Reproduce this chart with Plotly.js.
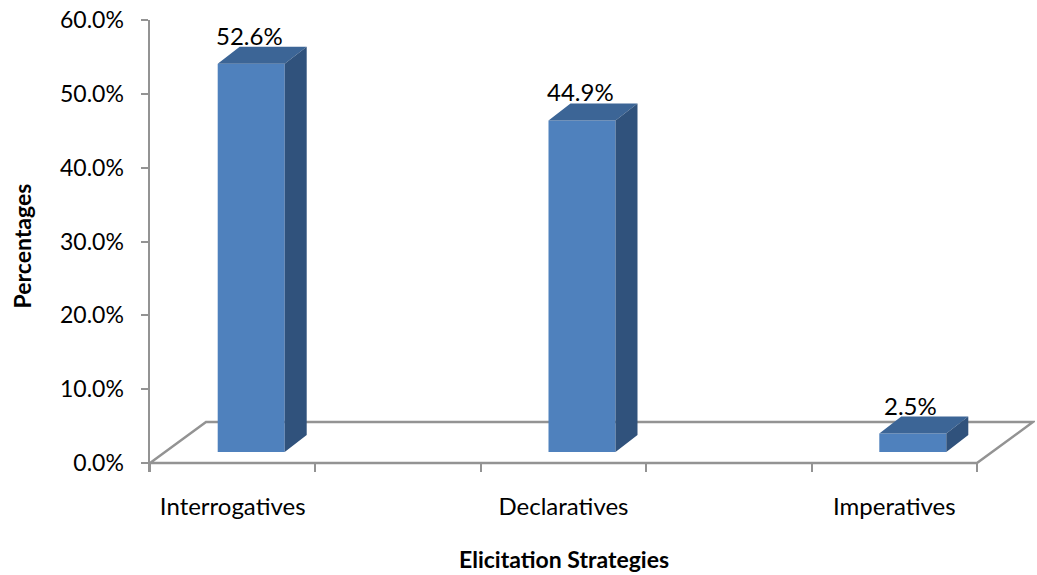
<!DOCTYPE html>
<html>
<head>
<meta charset="utf-8">
<script src="https://cdn.plot.ly/plotly-3.0.1.min.js"></script>
<style>html,body{margin:0;padding:0;background:#fff;}#chart{width:1037px;height:575px;}</style>
</head>
<body>
<div id="chart"></div>
<script>
// ---- data ----
const categories = ['Interrogatives', 'Declaratives', 'Imperatives'];
const values = [0.526, 0.449, 0.025];
const yTickVals = [0, 0.1, 0.2, 0.3, 0.4, 0.5, 0.6];
const xTitle = 'Elicitation Strategies';
const yTitle = 'Percentages';

// ---- geometry (pixel measurements converted to axis units) ----
const KX = 165.4;           // px per category slot
const KY = 738.3;           // px per 1.0 (100%)
const SLOT = 2;             // Excel spaced the categories every other slot
const DX0 = 18.5 / KX, DY0 = 11 / KY;    // front face depth offset
const BW = 67 / KX;                      // bar width
const DXD = 22 / KX, DYD = 17 / KY;      // bar depth
const DXF = 56 / KX, DYF = 41 / KY;      // floor depth
const nSlots = (categories.length - 1) * SLOT + 1;
const xMin = -0.5, xMax = -0.5 + 885 / KX;
const yMin = -9 / KY, yMax = 0.6;
const font = 'Lato, "Open Sans", sans-serif';
const grey = '#939393';

const xc = values.map((v, i) => i * SLOT + DX0);

const front = {
  type: 'bar', x: xc, y: values, base: values.map(() => DY0), width: BW,
  marker: {color: '#4F81BD', line: {width: 0}}, hoverinfo: 'skip', showlegend: false
};

const topX = [], topY = [], sideX = [], sideY = [];
values.forEach((v, i) => {
  const xl = xc[i] - BW / 2, xr = xc[i] + BW / 2, t = DY0 + v;
  topX.push(xl, xr, xr + DXD, xl + DXD, xl, null);
  topY.push(t, t, t + DYD, t + DYD, t, null);
  sideX.push(xr, xr + DXD, xr + DXD, xr, xr, null);
  sideY.push(DY0, DY0 + DYD, t + DYD, t, DY0, null);
});
const topFace = {type: 'scatter', mode: 'lines', x: topX, y: topY, fill: 'toself',
  fillcolor: '#3C6596', line: {width: 0, color: '#3C6596'}, hoverinfo: 'skip', showlegend: false};
const sideFace = {type: 'scatter', mode: 'lines', x: sideX, y: sideY, fill: 'toself',
  fillcolor: '#30527C', line: {width: 0, color: '#30527C'}, hoverinfo: 'skip', showlegend: false};

const xL = -0.5, xR = nSlots - 0.5;
const floorPath = `M ${xL},0 L ${xR},0 L ${xR + DXF},${DYF} L ${xL + DXF},${DYF} Z`;
const boundaries = [];
for (let k = 0; k <= nSlots; k++) boundaries.push(k - 0.5);

const labels = values.map((v, i) => ({
  x: xc[i] - 2 / KX, y: DY0 + v + DYD, xref: 'x', yref: 'y',
  text: (v * 100).toFixed(1) + '%', showarrow: false, yanchor: 'bottom', yshift: -5,
  font: {family: font, size: 24, color: '#000'}
}));
labels.push({
  x: (xL + xR) / 2, xref: 'x', y: 0, yref: 'paper', yanchor: 'middle', yshift: -87,
  text: '<b>' + xTitle + '</b>', showarrow: false,
  font: {family: font, size: 23, color: '#000'}
});

const layout = {
  width: 1037, height: 575,
  margin: {l: 150, r: 2, t: 20, b: 103},
  paper_bgcolor: '#fff', plot_bgcolor: '#fff',
  showlegend: false,
  font: {family: font, color: '#000'},
  xaxis: {
    range: [xMin, xMax], showgrid: false, zeroline: false, showline: false,
    tickmode: 'array', tickvals: categories.map((c, i) => i * SLOT), ticktext: categories,
    ticks: '', ticklabelstandoff: 18,
    tickfont: {family: font, size: 24, color: '#000'},
    minor: {tickmode: 'array', tickvals: boundaries, ticks: 'inside', ticklen: 8, tickwidth: 2, tickcolor: grey, showgrid: false},
    fixedrange: true
  },
  yaxis: {
    range: [yMin, yMax], showgrid: false, zeroline: false,
    showline: true, linecolor: grey, linewidth: 2.5,
    tickmode: 'array', tickvals: yTickVals, tickformat: '.1%',
    ticks: 'outside', ticklen: 7, tickwidth: 2, tickcolor: grey, ticklabelstandoff: 12,
    tickfont: {family: font, size: 23, color: '#000'},
    title: {text: '<b>' + yTitle + '</b>', font: {family: font, size: 23, color: '#000'}, standoff: 22},
    fixedrange: true
  },
  shapes: [{type: 'path', xref: 'x', yref: 'y', path: floorPath, layer: 'below',
    line: {color: grey, width: 2.5}, fillcolor: 'rgba(0,0,0,0)'}],
  annotations: labels
};

Plotly.newPlot('chart', [front, topFace, sideFace], layout, {displayModeBar: false, staticPlot: true});
</script>
</body>
</html>
